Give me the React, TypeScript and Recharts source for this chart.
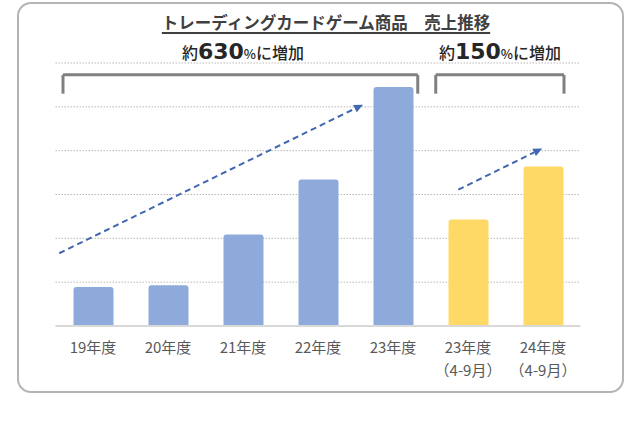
import { ComposedChart, Bar, Cell, XAxis, YAxis, CartesianGrid, ReferenceLine } from 'recharts';

// fiscal-year labels and the half-year sub label
const categories = ['19年度', '20年度', '21年度', '22年度', '23年度', '23年度', '24年度'];
const subLabels = ['', '', '', '', '', '（4-9月）', '（4-9月）'];
// sales in relative units (one gridline = 1)
const sales = [0.89, 0.93, 2.09, 3.34, 5.45, 2.43, 3.64];
const periods = ['full', 'full', 'full', 'full', 'full', 'half', 'half'];

// dashed trend arrows, in data units [x, y]
const trendArrows = [
  { from: [-0.45, 1.66], to: [3.6, 5.05] },
  { from: [4.87, 3.11], to: [5.99, 4.05] },
];

// brackets above the bars, in data units
const brackets = [
  { x1: -0.4, x2: 4.33, top: 5.73, bottom: 5.3 },
  { x1: 4.57, x2: 6.28, top: 5.73, bottom: 5.3 },
];

const growthLabels = [
  { pre: '約', num: '630', post: 'に増加', center: 243 },
  { pre: '約', num: '150', post: 'に増加', center: 500 },
];

const gridValues = [1, 2, 3, 4, 5, 6];

const data = categories.map((c, i) => ({ x: i, name: c, value: sales[i], period: periods[i] }));

const JP = '"Noto Sans CJK JP", "Noto Sans", sans-serif';

const TwoLineTick = ({ x, y, payload }: any) => {
  const i = payload.value;
  return (
    <g transform={`translate(${x},${y})`}>
      <text textAnchor="middle" fill="#595959" fontSize={15} fontFamily={JP}>
        <tspan x={0} y={27}>{categories[i]}</tspan>
        {subLabels[i] && <tspan x={0} y={50}>{subLabels[i]}</tspan>}
      </text>
    </g>
  );
};

const ArrowShape = (props: any) => {
  const { x1, y1, x2, y2 } = props;
  const ang = Math.atan2(y2 - y1, x2 - x1);
  const len = 9;
  const w = 4;
  const bx = x2 - len * Math.cos(ang);
  const by = y2 - len * Math.sin(ang);
  const px = -Math.sin(ang) * w;
  const py = Math.cos(ang) * w;
  return (
    <g>
      <line x1={x1} y1={y1} x2={bx} y2={by} stroke="#4167b1" strokeWidth={2} strokeDasharray="6 4" />
      <polygon points={`${x2},${y2} ${bx + px},${by + py} ${bx - px},${by - py}`} fill="#4167b1" />
    </g>
  );
};

export default function App() {
  return (
    <div style={{ position: 'absolute', left: 0, top: 0, width: 640, height: 426, background: '#fff', fontFamily: JP }}>
      {/* rounded frame */}
      <div
        style={{
          position: 'absolute',
          left: 17,
          top: 2,
          width: 603,
          height: 387,
          border: '2px solid #b4b4b4',
          borderRadius: 14,
        }}
      />
      {/* title */}
      <div
        style={{
          position: 'absolute',
          left: 0,
          width: 652,
          top: 10,
          textAlign: 'center',
          fontSize: 16.5,
          fontWeight: 700,
          color: '#404040',
          lineHeight: '24px',
        }}
      >
        <span style={{ textDecoration: 'underline', textDecorationThickness: 2, textUnderlineOffset: 3 }}>
          トレーディングカードゲーム商品　売上推移
        </span>
      </div>
      {growthLabels.map((g, i) => (
        <div
          key={i}
          style={{
            position: 'absolute',
            left: g.center - 100,
            width: 200,
            top: 38,
            textAlign: 'center',
            color: '#262626',
            lineHeight: '28px',
            whiteSpace: 'nowrap',
            fontWeight: 500,
          }}
        >
          <span style={{ fontSize: 16 }}>{g.pre}</span>
          <span style={{ fontSize: 22, fontWeight: 700, fontFamily: '"DejaVu Sans", sans-serif' }}>{g.num}</span>
          <span style={{ fontSize: 13 }}>%</span>
          <span style={{ fontSize: 16 }}>{g.post}</span>
        </div>
      ))}
      <div style={{ position: 'absolute', left: 0, top: 0 }}>
        <ComposedChart
          width={640}
          height={426}
          data={data}
          margin={{ top: 63, right: 59.5, left: 55.5, bottom: 50 }}
        >
          <CartesianGrid vertical={false} horizontalValues={gridValues} stroke="#b8b8b8" strokeDasharray="1.5 1.5" />
          <XAxis
            type="number"
            dataKey="x"
            domain={[-0.5, 6.5]}
            ticks={[0, 1, 2, 3, 4, 5, 6]}
            interval={0}
            height={50}
            tickLine={false}
            tickSize={0}
            tickMargin={0}
            axisLine={{ stroke: '#d9d9d9', strokeWidth: 2 }}
            tick={<TwoLineTick />}
          />
          <YAxis hide type="number" domain={[0, 6]} ticks={[0, 1, 2, 3, 4, 5, 6]} />
          <Bar dataKey="value" barSize={40} radius={[3, 3, 0, 0]} isAnimationActive={false}>
            {data.map((d, i) => (
              <Cell key={i} fill={d.period === 'half' ? '#ffd966' : '#8eaadb'} />
            ))}
          </Bar>
          {trendArrows.map((a, i) => (
            <ReferenceLine
              key={`arrow-${i}`}
              ifOverflow="visible"
              segment={[
                { x: a.from[0], y: a.from[1] },
                { x: a.to[0], y: a.to[1] },
              ]}
              shape={ArrowShape}
            />
          ))}
          {brackets.map((b, i) => [
            <ReferenceLine
              key={`bt-${i}`}
              ifOverflow="visible"
              stroke="#808080"
              strokeWidth={3}
              segment={[
                { x: b.x1, y: b.top },
                { x: b.x2, y: b.top },
              ]}
            />,
            <ReferenceLine
              key={`bl-${i}`}
              ifOverflow="visible"
              stroke="#808080"
              strokeWidth={3}
              segment={[
                { x: b.x1, y: b.top },
                { x: b.x1, y: b.bottom },
              ]}
            />,
            <ReferenceLine
              key={`br-${i}`}
              ifOverflow="visible"
              stroke="#808080"
              strokeWidth={3}
              segment={[
                { x: b.x2, y: b.top },
                { x: b.x2, y: b.bottom },
              ]}
            />,
          ])}
        </ComposedChart>
      </div>
    </div>
  );
}
